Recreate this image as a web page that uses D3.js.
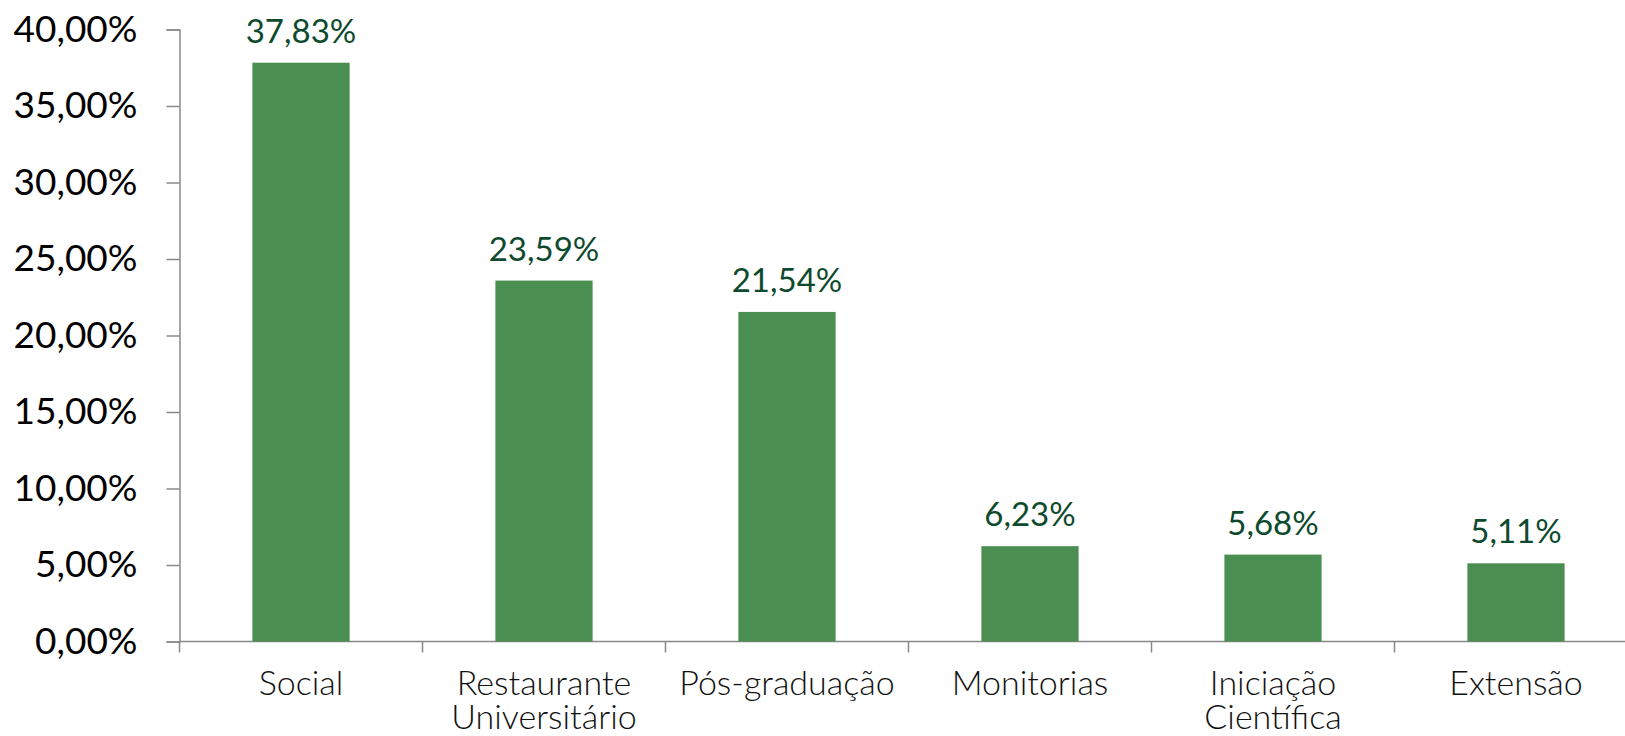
<!DOCTYPE html>
<html>
<head>
<meta charset="utf-8">
<script src="https://cdn.jsdelivr.net/npm/d3@7"></script>
<style>
  html, body { margin: 0; padding: 0; background: #fff; }
  svg { display: block; }
</style>
</head>
<body>
<svg id="chart" width="1625" height="736"></svg>
<script>
const categories = [
  ["Social"],
  ["Restaurante", "Universitário"],
  ["Pós-graduação"],
  ["Monitorias"],
  ["Iniciação", "Científica"],
  ["Extensão"]
];
const values = [37.83, 23.59, 21.54, 6.23, 5.68, 5.11];
const valueLabels = ["37,83%", "23,59%", "21,54%", "6,23%", "5,68%", "5,11%"];
const yTickValues = [0, 5, 10, 15, 20, 25, 30, 35, 40];
const yTickLabels = ["0,00%", "5,00%", "10,00%", "15,00%", "20,00%", "25,00%", "30,00%", "35,00%", "40,00%"];

const svg = d3.select("#chart");
const plotLeft = 179.5, plotRight = 1637.5, plotTop = 29.5, plotBottom = 641.5;
const axisColor = "#898989";

const x = d3.scaleBand()
  .domain(d3.range(categories.length))
  .range([plotLeft, plotRight])
  .paddingInner(0.6)
  .paddingOuter(0.3);

const y = d3.scaleLinear().domain([0, 40]).range([plotBottom, plotTop]);

// Y axis
const yAxis = d3.axisLeft(y)
  .tickValues(yTickValues)
  .tickFormat((d, i) => yTickLabels[i])
  .tickSize(13)
  .tickPadding(29);
const yg = svg.append("g").attr("transform", `translate(${plotLeft},0)`).call(yAxis);
yg.select(".domain").attr("stroke", axisColor).attr("stroke-width", 1.5);
yg.selectAll(".tick line").attr("stroke", axisColor).attr("stroke-width", 1.5);
yg.selectAll(".tick text")
  .attr("fill", "#000")
  .style("font-family", "Lato, 'Open Sans', sans-serif")
  .style("font-size", "37px");

// X axis line and category boundary ticks
const step = x.step();
const boundaries = d3.range(categories.length + 1).map(i => plotLeft + i * step);
svg.append("line")
  .attr("x1", plotLeft).attr("x2", plotRight)
  .attr("y1", plotBottom).attr("y2", plotBottom)
  .attr("stroke", axisColor).attr("stroke-width", 1.5);
svg.selectAll("line.xtick").data(boundaries).enter().append("line")
  .attr("class", "xtick")
  .attr("x1", d => d).attr("x2", d => d)
  .attr("y1", plotBottom).attr("y2", plotBottom + 11)
  .attr("stroke", axisColor).attr("stroke-width", 1.5);

// Bars
svg.selectAll("rect.bar").data(values).enter().append("rect")
  .attr("class", "bar")
  .attr("x", (d, i) => x(i))
  .attr("y", d => y(d))
  .attr("width", x.bandwidth())
  .attr("height", d => plotBottom - y(d))
  .attr("fill", "#4a8e52");

// Value labels
svg.selectAll("text.val").data(values).enter().append("text")
  .attr("class", "val")
  .attr("x", (d, i) => x(i) + x.bandwidth() / 2)
  .attr("y", d => y(d) - 20)
  .attr("text-anchor", "middle")
  .attr("fill", "#0e4a2e")
  .style("font-family", "Lato, 'Open Sans', sans-serif")
  .style("font-size", "33px")
  .text((d, i) => valueLabels[i]);

// Category labels
const cat = svg.selectAll("text.cat").data(categories).enter().append("text")
  .attr("class", "cat")
  .attr("x", (d, i) => x(i) + x.bandwidth() / 2)
  .attr("y", 695)
  .attr("text-anchor", "middle")
  .attr("fill", "#111")
  .style("font-family", "Lato, 'Open Sans', sans-serif")
  .style("font-weight", "300")
  .style("font-size", "34px");
cat.selectAll("tspan").data(d => d).enter().append("tspan")
  .attr("x", function() { return d3.select(this.parentNode).attr("x"); })
  .attr("dy", (d, i) => i === 0 ? 0 : 34)
  .text(d => d);
</script>
</body>
</html>
